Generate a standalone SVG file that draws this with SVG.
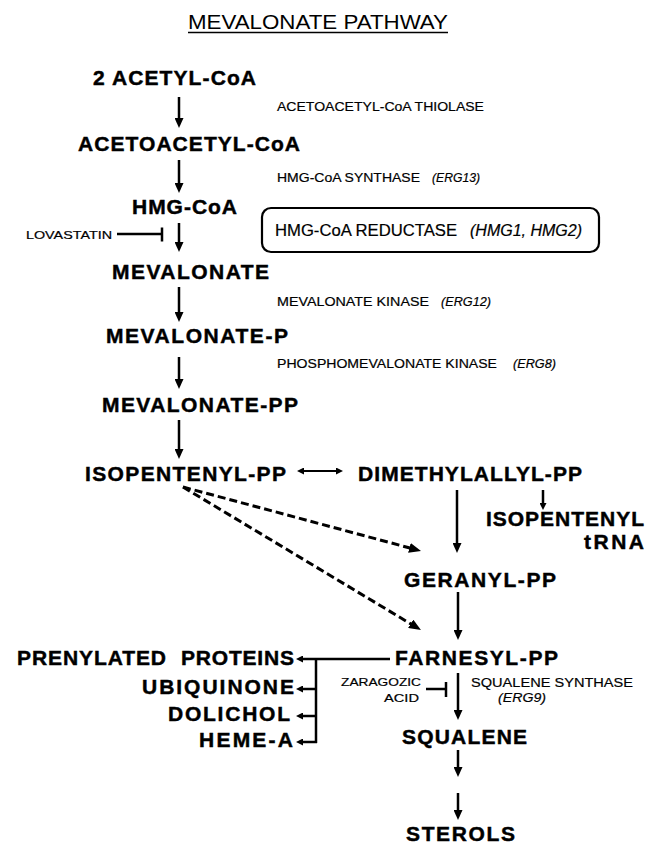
<svg xmlns="http://www.w3.org/2000/svg" width="649" height="844" viewBox="0 0 649 844">
<style>
text{font-family:"Liberation Sans",Arial,Helvetica,sans-serif;fill:#000}
.n{font-size:21px;font-weight:bold;stroke:#000;stroke-width:0.45}
.e{font-size:13.5px;stroke:#000;stroke-width:0.2}
.i{font-style:italic}
.b{font-size:16px;stroke:#000;stroke-width:0.2}
.s{font-size:11.5px;stroke:#000;stroke-width:0.2}
.t{font-size:20px}
.c line,.c path{stroke:#000;stroke-width:2.5;fill:none}
.c .d{stroke-width:3;stroke-dasharray:8 4}
.c .thin{stroke-width:2}
</style>
<defs>
<marker id="ah" viewBox="0 0 10 9" markerWidth="10" markerHeight="9" refX="3" refY="4.5" markerUnits="userSpaceOnUse" orient="auto"><path d="M0,0 L10,4.5 L0,9 z" fill="#000"/></marker>
<marker id="ahs" viewBox="0 0 7 7" markerWidth="7" markerHeight="7" refX="2" refY="3.5" markerUnits="userSpaceOnUse" orient="auto-start-reverse"><path d="M0,0 L7,3.5 L0,7 z" fill="#000"/></marker>
<marker id="ahd" viewBox="0 0 12 10" markerWidth="12" markerHeight="10" refX="4" refY="5" markerUnits="userSpaceOnUse" orient="auto"><path d="M0,0 L12,5 L0,10 z" fill="#000"/></marker>
</defs>
<rect width="649" height="844" fill="#fff"/>
<g id="title">
<text class="t" x="188" y="29" textLength="260" lengthAdjust="spacingAndGlyphs">MEVALONATE PATHWAY</text>
<line x1="188" y1="32.5" x2="448" y2="32.5" stroke="#000" stroke-width="1.5"/>
</g>
<g id="acetylcoa"><text class="n" x="93" y="85" textLength="163">2 ACETYL-CoA</text></g>
<g id="acetoacetylcoa"><text class="n" x="78" y="151" textLength="222">ACETOACETYL-CoA</text></g>
<g id="hmgcoa"><text class="n" x="132" y="214" textLength="105">HMG-CoA</text></g>
<g id="mevalonate"><text class="n" x="112" y="279" textLength="157">MEVALONATE</text></g>
<g id="mevalonate-p"><text class="n" x="106" y="343" textLength="182">MEVALONATE-P</text></g>
<g id="mevalonate-pp"><text class="n" x="102" y="412" textLength="196">MEVALONATE-PP</text></g>
<g id="ipp"><text class="n" x="85" y="481" textLength="201">ISOPENTENYL-PP</text></g>
<g id="dmapp"><text class="n" x="358" y="481" textLength="224">DIMETHYLALLYL-PP</text></g>
<g id="ipt-rna"><text class="n" x="486" y="526" textLength="158">ISOPENTENYL</text><text class="n" x="584" y="549" textLength="60">tRNA</text></g>
<g id="gpp"><text class="n" x="404" y="587" textLength="152">GERANYL-PP</text></g>
<g id="fpp"><text class="n" x="395" y="665" textLength="163">FARNESYL-PP</text></g>
<g id="prenylated"><text class="n" x="17" y="665" textLength="149">PRENYLATED</text><text class="n" x="181" y="665" textLength="113">PROTEINS</text></g>
<g id="ubiquinone"><text class="n" x="142" y="694" textLength="152">UBIQUINONE</text></g>
<g id="dolichol"><text class="n" x="168" y="721" textLength="122">DOLICHOL</text></g>
<g id="heme-a"><text class="n" x="199" y="747" textLength="94">HEME-A</text></g>
<g id="squalene"><text class="n" x="402" y="744" textLength="125">SQUALENE</text></g>
<g id="sterols"><text class="n" x="406" y="841" textLength="109">STEROLS</text></g>
<g id="enz-thiolase"><text class="e" x="277" y="111" textLength="207" lengthAdjust="spacingAndGlyphs">ACETOACETYL-CoA THIOLASE</text></g>
<g id="enz-hmgs"><text class="e" x="277" y="182" textLength="143" lengthAdjust="spacingAndGlyphs">HMG-CoA SYNTHASE</text><text class="e i" x="432" y="182" textLength="48" lengthAdjust="spacingAndGlyphs">(ERG13)</text></g>
<g id="enz-hmgr">
<rect x="262" y="208" width="337" height="44" rx="9" fill="none" stroke="#000" stroke-width="2.2"/>
<text class="b" x="275" y="236" textLength="182" lengthAdjust="spacingAndGlyphs">HMG-CoA REDUCTASE</text><text class="b i" x="470" y="236" textLength="112" lengthAdjust="spacingAndGlyphs">(HMG1, HMG2)</text>
</g>
<g id="enz-mk"><text class="e" x="277" y="306" textLength="152" lengthAdjust="spacingAndGlyphs">MEVALONATE KINASE</text><text class="e i" x="441" y="306" textLength="50" lengthAdjust="spacingAndGlyphs">(ERG12)</text></g>
<g id="enz-pmk"><text class="e" x="277" y="368" textLength="220" lengthAdjust="spacingAndGlyphs">PHOSPHOMEVALONATE KINASE</text><text class="e i" x="513" y="368" textLength="43" lengthAdjust="spacingAndGlyphs">(ERG8)</text></g>
<g id="enz-sqs"><text class="e" x="471" y="687" textLength="162" lengthAdjust="spacingAndGlyphs">SQUALENE SYNTHASE</text><text class="e i" x="498" y="702" textLength="48" lengthAdjust="spacingAndGlyphs">(ERG9)</text></g>
<g id="lovastatin"><text class="s" x="26" y="239" textLength="86" lengthAdjust="spacingAndGlyphs">LOVASTATIN</text></g>
<g id="zaragozic"><text class="s" x="341" y="686" textLength="80" lengthAdjust="spacingAndGlyphs">ZARAGOZIC</text><text class="s" x="384" y="702" textLength="35" lengthAdjust="spacingAndGlyphs">ACID</text></g>
<g id="connectors" class="c">
<line x1="179" y1="97" x2="179" y2="121" marker-end="url(#ah)"/>
<line x1="179" y1="160" x2="179" y2="186" marker-end="url(#ah)"/>
<line x1="179" y1="223" x2="179" y2="245" marker-end="url(#ah)"/>
<line x1="179" y1="287" x2="179" y2="315" marker-end="url(#ah)"/>
<line x1="179" y1="357" x2="179" y2="382" marker-end="url(#ah)"/>
<line x1="179" y1="420" x2="179" y2="452" marker-end="url(#ah)"/>
<line class="thin" x1="302" y1="471" x2="338" y2="471" marker-start="url(#ahs)" marker-end="url(#ahs)"/>
<line x1="457" y1="490" x2="457" y2="546" marker-end="url(#ah)"/>
<line x1="543" y1="490" x2="543" y2="505" marker-end="url(#ahs)"/>
<line class="d" x1="183" y1="487" x2="413.3" y2="548.9" marker-end="url(#ahd)"/>
<line class="d" x1="183" y1="487" x2="414.1" y2="625.9" marker-end="url(#ahd)"/>
<line x1="458" y1="592" x2="458" y2="633" marker-end="url(#ah)"/>
<line x1="458" y1="673" x2="458" y2="713" marker-end="url(#ah)"/>
<line x1="458" y1="750" x2="458" y2="770" marker-end="url(#ah)"/>
<line x1="458" y1="793" x2="458" y2="813" marker-end="url(#ah)"/>
<line x1="390" y1="659" x2="301" y2="659" marker-end="url(#ahs)"/>
<line x1="316" y1="658" x2="316" y2="743"/>
<line x1="317" y1="689" x2="301" y2="689" marker-end="url(#ahs)"/>
<line x1="317" y1="716" x2="301" y2="716" marker-end="url(#ahs)"/>
<line x1="317" y1="742" x2="301" y2="742" marker-end="url(#ahs)"/>
<line x1="117" y1="234" x2="162" y2="234"/>
<line x1="162" y1="227.5" x2="162" y2="241.5"/>
<line x1="426" y1="689" x2="446" y2="689"/>
<line x1="446" y1="682" x2="446" y2="697"/>
</g>
</svg>
